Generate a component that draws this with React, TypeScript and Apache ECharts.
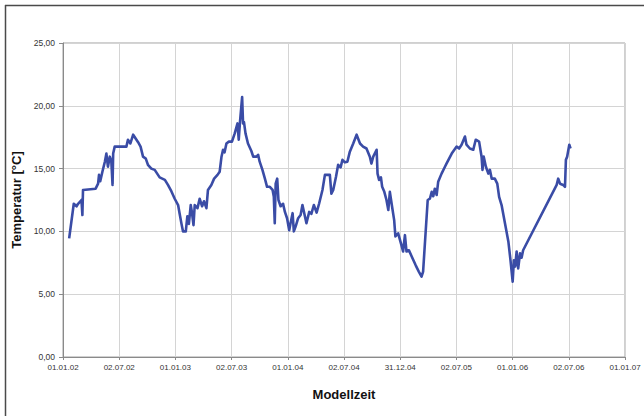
import React, { useEffect, useRef } from "react";
import * as echarts from "echarts";

// Days since 01.01.02
const days: number[] = [
  20, 35, 44, 49, 60, 63, 65, 106, 114, 117, 121, 128, 136, 141, 146, 152, 157, 161, 163, 168,
  206, 211, 219, 228, 236, 244, 252, 260, 269, 276, 287, 298, 314, 331, 341, 352, 363, 374, 379, 385,
  390, 399, 404, 409, 415, 419, 424, 428, 437, 444, 452, 458, 466, 471, 482, 491, 502, 509, 515, 520,
  525, 531, 539, 549, 558, 567, 571, 575, 582, 585, 588, 593, 601, 612, 618, 629, 634, 639, 648, 656,
  663, 672, 681, 685, 688, 691, 696, 700, 707, 715, 721, 728, 735, 739, 746, 750, 756, 764, 772, 778,
  786, 791, 800, 807, 815, 824, 832, 843, 851, 867, 872, 878, 887, 894, 902, 908, 916, 924, 932, 943,
  954, 965, 975, 986, 997, 1002, 1008, 1019, 1022, 1027, 1033, 1037, 1044, 1051, 1057, 1062, 1069, 1076, 1080, 1089,
  1098, 1105, 1111, 1116, 1124, 1133, 1146, 1156, 1165, 1170, 1178, 1185, 1192, 1198, 1203, 1208, 1214, 1219, 1230, 1241,
  1246, 1263, 1279, 1287, 1295, 1306, 1311, 1322, 1333, 1341, 1352, 1360, 1363, 1367, 1374, 1382, 1387, 1393, 1403, 1411,
  1417, 1425, 1436, 1447, 1454, 1461, 1465, 1469, 1474, 1479, 1485, 1490, 1495, 1604, 1609, 1615, 1625, 1631, 1634, 1638,
  1645, 1649,
];

const temps: number[] = [
  9.45, 12.2, 12.0, 12.2, 12.5, 11.3, 13.3, 13.4, 13.8, 14.5, 14.0, 14.75, 15.55, 16.2, 15.15, 15.95, 15.6, 13.7, 16.2, 16.75,
  16.75, 17.3, 17.0, 17.7, 17.4, 17.1, 16.75, 15.95, 15.8, 15.3, 15.0, 14.9, 14.3, 14.1, 13.7, 13.2, 12.6, 12.1, 11.4, 10.6,
  10.0, 10.0, 11.2, 10.6, 12.1, 11.5, 10.5, 12.1, 11.85, 12.6, 12.0, 12.4, 11.85, 13.3, 13.7, 14.2, 14.5, 14.75, 15.95, 16.5,
  16.3, 17.0, 17.15, 17.15, 17.8, 18.6, 17.3, 18.7, 20.7, 18.6, 18.7, 17.8, 17.0, 16.4, 15.95, 15.95, 16.1, 15.55, 14.9, 14.2,
  13.55, 13.55, 13.3, 12.75, 10.65, 13.8, 14.2, 12.5, 12.0, 12.2, 11.55, 11.05, 10.1, 10.6, 11.45, 10.0, 10.4, 11.05, 11.3, 12.1,
  11.2, 10.65, 11.55, 11.4, 12.1, 11.5, 12.2, 13.3, 14.5, 14.5, 13.0, 13.3, 14.35, 15.3, 15.1, 15.7, 15.5, 15.55, 16.35, 17.0,
  17.7, 17.0, 16.75, 16.6, 15.95, 15.4, 15.95, 16.5, 14.6, 14.1, 14.3, 13.55, 13.15, 12.5, 11.7, 13.15, 12.0, 10.9, 9.6, 9.85,
  9.05, 8.4, 9.7, 8.4, 8.5, 8.0, 7.3, 6.8, 6.4, 6.8, 9.85, 12.5, 12.6, 13.15, 12.8, 13.4, 12.9, 13.95, 14.6, 15.15,
  15.4, 16.2, 16.75, 16.6, 16.9, 17.55, 16.9, 16.6, 16.5, 17.3, 17.15, 15.95, 14.9, 15.95, 15.15, 14.6, 14.9, 14.2, 14.2, 13.8,
  12.75, 12.1, 10.65, 9.2, 7.7, 6.0, 7.7, 7.2, 8.4, 7.05, 8.25, 7.9, 8.5, 13.7, 14.2, 13.8, 13.7, 13.55, 15.7, 15.95,
  16.9, 16.6,
];

const xTickLabels: string[] = [
  "01.01.02", "02.07.02", "01.01.03", "02.07.03", "01.01.04", "02.07.04",
  "31.12.04", "02.07.05", "01.01.06", "02.07.06", "01.01.07",
];

const yMin = 0;
const yMax = 25;
const yStep = 5;
const xMax = 1826;
const xStep = 182.6;

if (typeof document !== "undefined") {
  document.body.style.margin = "0";
}

export default function App() {
  const ref = useRef<HTMLDivElement>(null);

  useEffect(() => {
    if (!ref.current) return;
    document.body.style.margin = "0";
    const chart = echarts.init(ref.current, undefined, { renderer: "svg" });
    const data = days.map((d, i) => [d, temps[i]]);
    chart.setOption({
      animation: false,
      backgroundColor: "#ffffff",
      textStyle: { fontFamily: "Liberation Sans, Arial, sans-serif" },
      graphic: {
        elements: [
          {
            type: "line",
            shape: { x1: 5, y1: 5.5, x2: 644, y2: 5.5 },
            style: { stroke: "#4a4a4a", lineWidth: 1.5 },
            silent: true,
            z: 100,
          },
          {
            type: "line",
            shape: { x1: 5.5, y1: 5, x2: 5.5, y2: 416 },
            style: { stroke: "#4a4a4a", lineWidth: 1.5 },
            silent: true,
            z: 100,
          },
        ],
      },
      grid: {
        left: 63,
        top: 43,
        right: 19,
        bottom: 59,
        show: true,
        borderColor: "#a0a0a0",
        borderWidth: 1,
        backgroundColor: "transparent",
      },
      xAxis: {
        type: "value",
        min: 0,
        max: xMax,
        interval: xStep,
        name: "Modellzeit",
        nameLocation: "middle",
        nameGap: 31,
        nameTextStyle: { fontSize: 13, fontWeight: "bold", color: "#111" },
        axisLine: { show: true, lineStyle: { color: "#8a8a8a", width: 1 } },
        axisTick: { show: true, length: 3, lineStyle: { color: "#8a8a8a" } },
        axisLabel: {
          fontSize: 8,
          color: "#333",
          margin: 6,
          showMaxLabel: true,
          showMinLabel: true,
          formatter: (v: number) => xTickLabels[Math.round(v / xStep)] ?? "",
        },
        splitLine: { show: true, lineStyle: { color: "#d4d4d4", width: 1 } },
      },
      yAxis: {
        type: "value",
        min: yMin,
        max: yMax,
        interval: yStep,
        name: "Temperatur [°C]",
        nameLocation: "middle",
        nameGap: 35,
        nameTextStyle: { fontSize: 13, fontWeight: "bold", color: "#111" },
        axisLine: { show: true, lineStyle: { color: "#8a8a8a", width: 1 } },
        axisTick: { show: true, length: 4, lineStyle: { color: "#8a8a8a" } },
        axisLabel: {
          fontSize: 8.5,
          color: "#333",
          margin: 8,
          formatter: (v: number) => v.toFixed(2).replace(".", ","),
        },
        splitLine: { show: true, lineStyle: { color: "#d4d4d4", width: 1 } },
      },
      series: [
        {
          type: "line",
          data,
          showSymbol: false,
          symbol: "none",
          lineStyle: { color: "#3a4ca6", width: 2.6, join: "round" },
          z: 5,
        },
      ],
    });
    return () => chart.dispose();
  }, []);

  return <div ref={ref} style={{ width: 644, height: 416 }} />;
}
